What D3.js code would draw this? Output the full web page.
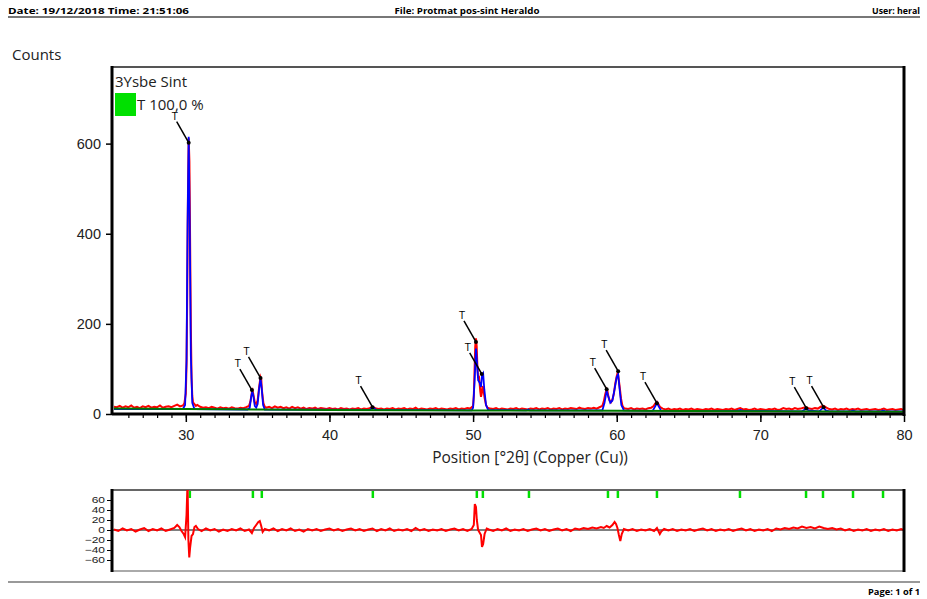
<!DOCTYPE html>
<html>
<head>
<meta charset="utf-8">
<script src="https://cdn.jsdelivr.net/npm/d3@7"></script>
<style>
  body { margin: 0; background: #fff; }
  svg { font-family: "Open Sans", "Noto Sans", sans-serif; }
  .axis path, .axis line { stroke: #000; }
  .axis text { fill: #222; }
</style>
</head>
<body>
<div class="chart"></div>
<script>
// Observed counts [2theta, counts]
var observed = [
  [25,16],[25.2,15],[25.4,18],[25.6,14],[25.8,17],[26,15],[26.2,19],[26.4,14],[26.6,16],[26.8,13],
  [27,17],[27.2,15],[27.4,18],[27.6,14],[27.8,16],[28,15],[28.2,19],[28.4,14],[28.6,16],[28.8,17],
  [29,15],[29.2,18],[29.4,21],[29.6,17],[29.8,19],[29.9,24],[30.0,45],[30.05,110],[30.1,270],[30.15,490],
  [30.2,612],[30.25,560],[30.3,380],[30.35,190],[30.4,80],[30.45,40],[30.5,26],[30.6,22],[30.7,18],[30.8,20],
  [31,16],[31.2,14],[31.4,15],[31.6,13],[31.8,16],[32,14],[32.2,12],[32.4,15],[32.6,13],[32.8,14],
  [33,12],[33.2,15],[33.4,13],[33.6,12],[33.8,14],[34,13],[34.2,15],[34.4,18],[34.5,28],[34.6,48],
  [34.65,52],[34.7,44],[34.8,26],[34.9,22],[35.0,30],[35.1,58],[35.2,82],[35.25,78],[35.3,52],[35.4,24],
  [35.5,16],[35.6,14],[35.8,16],[36,13],[36.2,17],[36.4,14],[36.6,16],[36.8,13],[37,15],[37.2,12],
  [37.4,16],[37.6,13],[37.8,15],[38,12],[38.2,14],[38.4,11],[38.6,13],[38.8,12],[39,14],[39.2,11],
  [39.4,13],[39.6,12],[39.8,11],[40,13],[40.2,11],[40.4,12],[40.6,10],[40.8,13],[41,11],[41.2,12],
  [41.4,10],[41.6,12],[41.8,11],[42,13],[42.2,10],[42.4,12],[42.6,11],[42.8,13],[43,16],[43.2,13],
  [43.4,11],[43.6,12],[43.8,10],[44,12],[44.2,11],[44.4,13],[44.6,10],[44.8,12],[45,11],[45.2,13],
  [45.4,10],[45.6,12],[45.8,11],[46,14],[46.2,10],[46.4,12],[46.6,11],[46.8,10],[47,12],[47.2,11],
  [47.4,13],[47.6,10],[47.8,12],[48,11],[48.2,10],[48.4,12],[48.6,11],[48.8,13],[49,10],[49.2,12],
  [49.4,11],[49.6,13],[49.8,12],[50,18],[50.05,40],[50.1,95],[50.15,150],[50.2,168],[50.25,150],[50.3,105],
  [50.35,80],[50.4,85],[50.45,70],[50.5,50],[50.55,38],[50.6,45],[50.65,62],[50.7,58],[50.8,36],[50.9,20],
  [51,14],[51.2,12],[51.4,11],[51.6,13],[51.8,10],[52,12],[52.2,11],[52.4,10],[52.6,12],[52.8,11],
  [53,13],[53.2,10],[53.4,12],[53.6,11],[53.8,10],[54,12],[54.2,11],[54.4,13],[54.6,10],[54.8,12],
  [55,11],[55.2,13],[55.4,10],[55.6,12],[55.8,11],[56,13],[56.2,10],[56.4,12],[56.6,11],[56.8,13],
  [57,12],[57.2,11],[57.4,14],[57.6,12],[57.8,11],[58,13],[58.2,12],[58.4,14],[58.6,12],[58.8,15],
  [59,18],[59.1,28],[59.2,44],[59.3,55],[59.35,52],[59.4,42],[59.5,30],[59.6,26],[59.7,32],[59.8,45],
  [59.9,68],[60.0,84],[60.05,90],[60.1,86],[60.2,62],[60.3,34],[60.4,18],[60.5,13],[60.6,12],[60.8,11],
  [61,13],[61.2,10],[61.4,12],[61.6,11],[61.8,12],[62,10],[62.2,13],[62.4,14],[62.55,17],[62.7,24],
  [62.8,27],[62.9,22],[63.0,16],[63.2,12],[63.4,10],[63.6,12],[63.8,9],[64,11],[64.2,10],[64.4,12],
  [64.6,9],[64.8,11],[65,10],[65.2,12],[65.4,9],[65.6,11],[65.8,10],[66,9],[66.2,11],[66.4,10],
  [66.6,12],[66.8,9],[67,11],[67.2,10],[67.4,9],[67.6,11],[67.8,10],[68,12],[68.2,9],[68.4,11],
  [68.6,13],[68.8,10],[69,11],[69.2,9],[69.4,10],[69.6,12],[69.8,9],[70,11],[70.2,10],[70.4,9],
  [70.6,11],[70.8,10],[71,12],[71.2,9],[71.4,10],[71.6,13],[71.8,11],[72,12],[72.2,10],[72.4,13],
  [72.6,11],[72.8,12],[73,14],[73.2,15],[73.4,12],[73.6,11],[73.8,13],[74,12],[74.2,16],[74.4,18],
  [74.6,14],[74.8,11],[75,10],[75.2,12],[75.4,9],[75.6,11],[75.8,10],[76,12],[76.2,9],[76.4,11],
  [76.6,10],[76.8,12],[77,9],[77.2,10],[77.4,11],[77.6,9],[77.8,10],[78,11],[78.2,9],[78.4,10],
  [78.6,12],[78.8,9],[79,10],[79.2,11],[79.4,9],[79.6,10],[79.8,11],[80,9]
];

// Calculated profile
var calculated = [
  [25,11],[29.8,11],[29.95,20],[30.05,120],[30.12,420],[30.2,615],[30.27,430],[30.35,130],[30.45,25],[30.6,11],
  [34.3,10],[34.45,14],[34.55,38],[34.63,50],[34.7,40],[34.8,18],[34.9,14],[35.0,22],[35.1,55],[35.2,78],
  [35.28,58],[35.38,20],[35.5,10],[42.8,9],[42.95,13],[43.03,15],[43.12,12],[43.3,9],[49.9,8],[50.0,14],
  [50.1,70],[50.2,145],[50.28,110],[50.35,75],[50.45,70],[50.55,60],[50.62,85],[50.7,90],[50.78,55],[50.9,20],
  [51.05,9],[53.7,8],[53.85,10],[53.95,8],[59.0,8],[59.15,25],[59.3,52],[59.4,40],[59.55,25],[59.7,30],
  [59.85,55],[60.0,82],[60.1,88],[60.2,55],[60.32,20],[60.5,8],[62.5,7],[62.7,18],[62.8,25],[62.9,18],
  [63.1,7],[68.4,7],[68.6,9],[68.8,7],[72.9,6],[73.1,10],[73.2,12],[73.35,8],[74.1,6],[74.3,12],
  [74.4,14],[74.55,8],[74.8,6],[76.3,6],[76.45,8],[76.6,6],[78.4,6],[78.55,8],[78.7,6],[80,6]
];

// Background
var background = [[25,12],[30,11],[35,10],[40,9],[50,8],[60,7],[70,6],[80,5]];

// Difference plot
var difference = [
  [25,1],[25.3,-2],[25.6,3],[25.9,-1],[26.2,2],[26.5,-3],[26.8,1],[27.1,4],[27.4,-2],[27.7,2],
  [28,-1],[28.3,3],[28.6,-2],[28.9,1],[29.2,4],[29.4,10],[29.55,6],[29.7,-2],[29.85,-8],[29.95,-14],
  [30.05,30],[30.12,95],[30.18,-20],[30.24,-55],[30.3,-35],[30.4,-12],[30.5,-8],[30.6,6],[30.7,8],[30.85,2],
  [31.1,-2],[31.4,3],[31.7,-1],[32,2],[32.3,-3],[32.6,1],[32.9,-2],[33.2,2],[33.5,-1],[33.8,3],
  [34.1,-2],[34.4,1],[34.6,-6],[34.75,4],[34.9,10],[35.05,16],[35.15,18],[35.25,8],[35.35,-4],[35.5,2],
  [35.8,-1],[36.1,3],[36.4,-2],[36.7,2],[37,-1],[37.3,3],[37.6,-2],[37.9,1],[38.2,-3],[38.5,2],
  [38.8,-1],[39.1,2],[39.4,-2],[39.7,1],[40,3],[40.3,-1],[40.6,2],[40.9,-2],[41.2,1],[41.5,3],
  [41.8,-1],[42.1,2],[42.4,-2],[42.7,1],[43,3],[43.3,-2],[43.6,2],[43.9,-1],[44.2,3],[44.5,-2],
  [44.8,1],[45.1,-1],[45.4,2],[45.7,-2],[46,4],[46.3,-1],[46.6,2],[46.9,-2],[47.2,1],[47.5,-1],
  [47.8,2],[48.1,-2],[48.4,1],[48.7,3],[49,-1],[49.3,2],[49.6,-2],[49.9,2],[50.05,10],[50.12,52],
  [50.2,46],[50.26,20],[50.35,0],[50.45,-5],[50.55,-10],[50.62,-34],[50.7,-28],[50.8,-8],[50.95,3],[51.1,1],
  [51.4,-2],[51.7,2],[52,-1],[52.3,3],[52.6,-2],[52.9,1],[53.2,-1],[53.5,2],[53.8,-2],[54.1,1],
  [54.4,3],[54.7,-1],[55,2],[55.3,-2],[55.6,1],[55.9,3],[56.2,-1],[56.5,2],[56.8,-2],[57.1,3],
  [57.4,1],[57.7,4],[58,2],[58.3,5],[58.6,3],[58.9,6],[59.1,4],[59.3,8],[59.5,5],[59.7,10],
  [59.85,16],[59.95,12],[60.05,4],[60.15,-10],[60.25,-22],[60.35,-8],[60.5,2],[60.8,-1],[61.1,2],[61.4,-2],
  [61.7,1],[62,-1],[62.3,2],[62.6,-2],[62.8,4],[63,-8],[63.1,-3],[63.3,2],[63.6,-1],[63.9,2],
  [64.2,-2],[64.5,1],[64.8,-1],[65.1,2],[65.4,-2],[65.7,1],[66,3],[66.3,-1],[66.6,2],[66.9,-2],
  [67.2,1],[67.5,-1],[67.8,2],[68.1,-2],[68.4,1],[68.7,3],[69,-1],[69.3,2],[69.6,-2],[69.9,1],
  [70.2,-1],[70.5,2],[70.8,-2],[71.1,3],[71.4,1],[71.7,4],[72,2],[72.3,5],[72.6,3],[72.9,7],
  [73.2,4],[73.5,6],[73.8,3],[74.1,7],[74.4,4],[74.7,2],[75,4],[75.3,1],[75.6,3],[75.9,-1],
  [76.2,2],[76.5,-2],[76.8,1],[77.1,-1],[77.4,2],[77.7,-2],[78,1],[78.3,-1],[78.6,2],[78.9,-2],
  [79.2,1],[79.5,-1],[79.8,2],[80,0]
];

// Reference pattern lines (T)
var refPositions = [30.28, 34.67, 35.29, 43.02, 50.26, 50.68, 53.89, 59.39, 60.08, 62.80, 68.58, 73.18, 74.36, 76.45, 78.54];

// Labelled peaks: position and arrow tip height
var labelPos = [30.2, 34.6, 35.2, 43.0, 50.2, 50.6, 59.3, 60.1, 62.8, 73.2, 74.4];
var labelCounts = [602, 53, 80, 15, 160, 89, 55, 95, 24, 13, 15];

var xTicks = [30, 40, 50, 60, 70, 80];
var yTicks = [0, 200, 400, 600];
var diffTicks = [60, 40, 20, 0, -20, -40, -60];

var svgWidth = 927, svgHeight = 599;

var svg = d3.select(".chart")
  .append("svg")
  .attr("width", svgWidth)
  .attr("height", svgHeight);

// Header / footer (text stretched to the page widths)
function pageText(x, y, anchor, len, txt) {
  svg.append("text").attr("x", x).attr("y", y)
    .attr("font-size", "8.5px").attr("font-weight", "bold")
    .attr("text-anchor", anchor)
    .attr("textLength", len).attr("lengthAdjust", "spacingAndGlyphs")
    .text(txt);
}
pageText(8, 14, "start", 181, "Date: 19/12/2018 Time: 21:51:06");
pageText(467, 14, "middle", 145, "File: Protmat pos-sint Heraldo");
pageText(920, 14, "end", 48, "User: heral");
pageText(920, 595, "end", 52, "Page: 1 of 1");
svg.append("line").attr("x1", 8).attr("x2", 920).attr("y1", 17).attr("y2", 17)
  .attr("stroke", "#777").attr("stroke-width", 2);
svg.append("line").attr("x1", 8).attr("x2", 920).attr("y1", 582).attr("y2", 582)
  .attr("stroke", "#999").attr("stroke-width", 2);

// Scales
var xScale = d3.scaleLinear().domain([25, 80]).range([114, 904]);
var yScale = d3.scaleLinear().domain([0, 770]).range([414, 67]);
var dScale = d3.scaleLinear().domain([-80, 80]).range([570, 490]);

var plotLeft = 112, plotRight = 904;

svg.append("clipPath").attr("id", "mainClip")
  .append("rect").attr("x", plotLeft).attr("y", 67).attr("width", plotRight - plotLeft).attr("height", 347);
svg.append("clipPath").attr("id", "diffClip")
  .append("rect").attr("x", plotLeft).attr("y", 490).attr("width", plotRight - plotLeft).attr("height", 80);

// Main frame top
svg.append("line").attr("x1", plotLeft).attr("x2", plotRight).attr("y1", 67).attr("y2", 67)
  .attr("stroke", "#555").attr("stroke-width", 2);

var line = d3.line()
  .x(function(d) { return xScale(d[0]); })
  .y(function(d) { return yScale(d[1]); });

var plot = svg.append("g").attr("clip-path", "url(#mainClip)");

plot.append("path").datum(observed)
  .attr("d", line).attr("fill", "none").attr("stroke", "#ff0000").attr("stroke-width", 2);
plot.append("path").datum(calculated)
  .attr("d", line).attr("fill", "none").attr("stroke", "#0000ff").attr("stroke-width", 1.8);
plot.append("path").datum(background)
  .attr("d", line).attr("fill", "none").attr("stroke", "#007a00").attr("stroke-width", 2);

// Peak labels with arrows
var labels = svg.append("g");
labelPos.forEach(function(p, i) {
  var tx = xScale(p), ty = yScale(labelCounts[i]);
  labels.append("line")
    .attr("x1", tx - 12).attr("y1", ty - 21).attr("x2", tx).attr("y2", ty)
    .attr("stroke", "#000").attr("stroke-width", 1.5);
  labels.append("circle").attr("cx", tx).attr("cy", ty).attr("r", 2).attr("fill", "#000");
  labels.append("text").attr("x", tx - 14).attr("y", ty - 23)
    .attr("text-anchor", "middle").attr("font-size", "11px").attr("fill", "#000").text("T");
});

// Axes
var bottomAxis = d3.axisBottom(xScale).tickValues(xTicks).tickSize(8).tickSizeOuter(0);
var minorAxis = d3.axisBottom(xScale).tickValues(d3.range(26, 80, 1)).tickSize(4).tickFormat("");
var leftAxis = d3.axisLeft(yScale).tickValues(yTicks).tickSize(6).tickSizeOuter(0);

svg.append("g").attr("class", "axis")
  .attr("transform", "translate(0,414)")
  .call(minorAxis)
  .call(function(g) { g.select(".domain").remove(); g.selectAll("line").attr("stroke-width", 1.2); });

var xAxisG = svg.append("g").attr("class", "axis")
  .attr("transform", "translate(0,414)")
  .call(bottomAxis);
xAxisG.select(".domain").attr("d", "M" + plotLeft + ",0H" + plotRight).attr("stroke-width", 3);
xAxisG.selectAll("line").attr("stroke-width", 1.5);
xAxisG.selectAll("text").attr("font-size", "14.5px").attr("dy", "1em");

var yAxisG = svg.append("g").attr("class", "axis")
  .attr("transform", "translate(" + plotLeft + ",0)")
  .call(leftAxis);
yAxisG.select(".domain").attr("d", "M0,66V415").attr("stroke-width", 3);
yAxisG.selectAll("line").attr("stroke-width", 1.5);
yAxisG.selectAll("text").attr("font-size", "14.5px").attr("x", -11);

svg.append("line").attr("x1", plotRight).attr("x2", plotRight).attr("y1", 66).attr("y2", 416)
  .attr("stroke", "#000").attr("stroke-width", 3);

svg.append("text").attr("x", 12).attr("y", 60).attr("font-size", "15px").attr("fill", "#222").text("Counts");
svg.append("text").attr("x", 530).attr("y", 463).attr("text-anchor", "middle")
  .attr("font-size", "15.5px").attr("fill", "#222").text("Position [°2θ] (Copper (Cu))");

// Legend
svg.append("text").attr("x", 115).attr("y", 87).attr("font-size", "15px").attr("fill", "#222").text("3Ysbe Sint");
svg.append("rect").attr("x", 115).attr("y", 93).attr("width", 21).attr("height", 23).attr("fill", "#00e000");
svg.append("text").attr("x", 137).attr("y", 110).attr("font-size", "15px").attr("fill", "#222").text("T 100,0 %");

// Difference plot
svg.append("line").attr("x1", plotLeft).attr("x2", plotRight).attr("y1", 490).attr("y2", 490)
  .attr("stroke", "#666").attr("stroke-width", 2);
svg.append("line").attr("x1", plotLeft).attr("x2", plotRight).attr("y1", 571).attr("y2", 571)
  .attr("stroke", "#aaa").attr("stroke-width", 2);

var dplot = svg.append("g").attr("clip-path", "url(#diffClip)");
dplot.append("line").attr("x1", plotLeft).attr("x2", plotRight)
  .attr("y1", dScale(0)).attr("y2", dScale(0)).attr("stroke", "#000").attr("stroke-width", 1);
dplot.selectAll(".refTick")
  .data(refPositions)
  .enter()
  .append("line")
  .attr("class", "refTick")
  .attr("x1", function(d) { return xScale(d); })
  .attr("x2", function(d) { return xScale(d); })
  .attr("y1", 491).attr("y2", 498)
  .attr("stroke", "#00e000").attr("stroke-width", 2.5);

var dline = d3.line()
  .x(function(d) { return xScale(d[0]); })
  .y(function(d) { return dScale(d[1]); });
dplot.append("path").datum(difference)
  .attr("d", dline).attr("fill", "none").attr("stroke", "#ff0000").attr("stroke-width", 2);

var dAxis = d3.axisLeft(dScale).tickValues(diffTicks).tickSize(5).tickSizeOuter(0);
var dAxisG = svg.append("g").attr("class", "axis")
  .attr("transform", "translate(" + plotLeft + ",0)")
  .call(dAxis);
dAxisG.select(".domain").attr("d", "M0,489V572").attr("stroke-width", 3);
dAxisG.selectAll("text").attr("font-size", "12px").attr("x", -7)
  .attr("transform", "scale(1,0.75)");
svg.append("line").attr("x1", plotRight).attr("x2", plotRight).attr("y1", 489).attr("y2", 572)
  .attr("stroke", "#000").attr("stroke-width", 3);
</script>
</body>
</html>
